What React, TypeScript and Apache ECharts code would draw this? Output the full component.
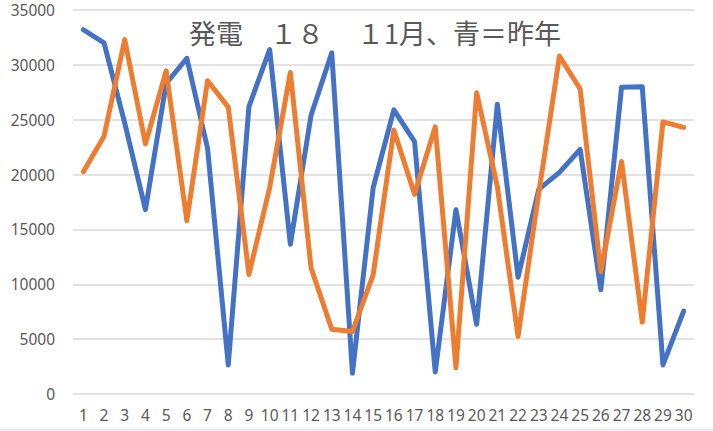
import React, { useEffect, useRef } from "react";
import * as echarts from "echarts";

const days = ["1","2","3","4","5","6","7","8","9","10","11","12","13","14","15","16","17","18","19","20","21","22","23","24","25","26","27","28","29","30"];
const lastYear = [33200, 32000, 24700, 16800, 28300, 30600, 22400, 2650, 26200, 31400, 13650, 25400, 31100, 1900, 18800, 25900, 23000, 2000, 16800, 6350, 26400, 10650, 18650, 20200, 22300, 9500, 27950, 28000, 2650, 7550];
const thisYear = [20250, 23500, 32300, 22800, 29450, 15800, 28550, 26150, 10900, 18800, 29300, 11500, 5900, 5700, 10850, 24050, 18200, 24350, 2400, 27450, 18900, 5250, 18300, 30800, 27800, 11150, 21200, 6550, 24800, 24300];
const yTicks = [0, 5000, 10000, 15000, 20000, 25000, 30000, 35000];
const titleText = "発電　１８　 １1月、青＝昨年";

export default function App() {
  const ref = useRef<HTMLDivElement>(null);
  useEffect(() => {
    document.body.style.margin = "0";
    if (!ref.current) return;
    const chart = echarts.init(ref.current, null, { renderer: "svg" });
    chart.setOption({
      animation: false,
      backgroundColor: "#ffffff",
      title: {
        text: titleText,
        left: 184,
        top: 14,
        textStyle: {
          color: "#595959",
          fontSize: 27,
          fontWeight: "normal",
          fontFamily: "Noto Sans CJK JP",
        },
      },
      grid: { left: 73, right: 19, top: 10, bottom: 37, containLabel: false },
      xAxis: {
        type: "category",
        data: days,
        boundaryGap: true,
        axisLine: { show: false },
        axisTick: { show: false },
        axisLabel: {
          color: "#595959",
          fontSize: 15.5,
          fontFamily: "Noto Sans",
          margin: 13,
          interval: 0,
        },
      },
      yAxis: {
        type: "value",
        min: yTicks[0],
        max: yTicks[yTicks.length - 1],
        interval: 5000,
        axisLine: { show: false },
        axisTick: { show: false },
        axisLabel: {
          color: "#595959",
          fontSize: 15.5,
          fontFamily: "Noto Sans",
          margin: 18,
          formatter: (v: number) => String(v),
        },
        splitLine: { lineStyle: { color: "#d9d9d9", width: 1.5 } },
      },
      series: [
        {
          name: "昨年",
          type: "line",
          data: lastYear,
          symbol: "none",
          lineStyle: { color: "#4472C4", width: 5, cap: "round", join: "round" },
        },
        {
          name: "今年",
          type: "line",
          data: thisYear,
          symbol: "none",
          lineStyle: { color: "#ED7D31", width: 5, cap: "round", join: "round" },
        },
      ],
      graphic: [
        {
          type: "line",
          shape: { x1: 0, y1: 430, x2: 713, y2: 430 },
          style: { stroke: "#d9d9d9", lineWidth: 1 },
        },
      ],
    });
    return () => chart.dispose();
  }, []);
  return <div ref={ref} style={{ width: 713, height: 431 }} />;
}
